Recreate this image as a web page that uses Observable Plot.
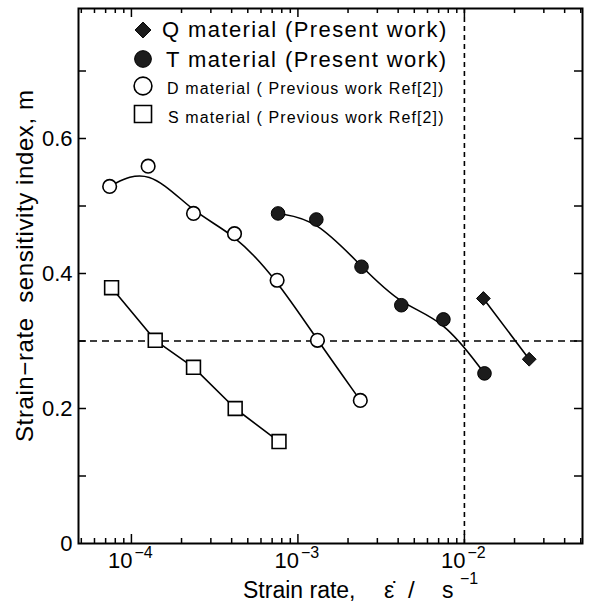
<!DOCTYPE html>
<html><head><meta charset="utf-8">
<script src="https://cdn.jsdelivr.net/npm/d3@7"></script>
<script src="https://cdn.jsdelivr.net/npm/@observablehq/plot@0.6"></script>
<style>
body{margin:0;background:#fff}
svg{font-family:"Liberation Sans",Arial,Helvetica,sans-serif;background:#fff}
</style>
</head><body><div id="chart"></div>
<script>
// ---- data (strain rate in 1/s, sensitivity index m) ----
const dRate = [7.4e-5, 1.26e-4, 2.36e-4, 4.16e-4, 7.5e-4, 1.31e-3, 2.37e-3];
const dM    = [0.529, 0.559, 0.489, 0.459, 0.390, 0.301, 0.212];
const sRate = [7.6e-5, 1.39e-4, 2.36e-4, 4.2e-4, 7.7e-4];
const sM    = [0.379, 0.301, 0.261, 0.200, 0.151];
const tRate = [7.6e-4, 1.29e-3, 2.41e-3, 4.18e-3, 7.48e-3, 1.32e-2];
const tM    = [0.489, 0.480, 0.410, 0.353, 0.332, 0.252];
const qRate = [1.30e-2, 2.45e-2];
const qM    = [0.363, 0.273];
const refM = [0.3];
const refRate = [0.01];
const xMajor = [1e-4, 1e-3, 1e-2];
const xMajorBase = ["10", "10", "10"];
const xMajorExp = ["\u22124", "\u22123", "\u22122"];
const yMajor = [0, 0.2, 0.4, 0.6];
const yLabels = ["0", "0.2", "0.4", "0.6"];
const yMinor = [0.1, 0.3, 0.5, 0.7];
const legendLabels = [
  "Q material (Present work)",
  "T material (Present work)",
  "D material ( Previous work Ref[2])",
  "S material ( Previous work Ref[2])"
];
const yTitle = "Strain\u2212rate\u00a0\u00a0sensitivity index, m";
const xTitle = "Strain rate,";

// ---- scales / layout ----
const xDomain = [4.81e-5, 0.0512];
const yDomain = [0, 0.7926];
const W = 590, H = 604, mL = 78, mR = 8, mT = 8, mB = 61;
const plotH = H - mT - mB, plotW = W - mL - mR;
const yPerPx = (yDomain[1] - yDomain[0]) / plotH;
const decadePx = plotW / Math.log10(xDomain[1] / xDomain[0]);
const xFactor = px => Math.pow(10, px / decadePx);

const xMinor = [];
for (let e = -5; e <= -2; e++) for (let k = 2; k <= 9; k++) {
  const v = k * Math.pow(10, e);
  if (v > xDomain[0] && v < xDomain[1]) xMinor.push(v);
}
const yTicksAll = [...yMajor.filter(v => v > 0), ...yMinor];

const pts = (xs, ys) => xs.map((x, i) => ({x, y: ys[i]}));
const D = pts(dRate, dM), S = pts(sRate, sM), T = pts(tRate, tM), Q = pts(qRate, qM);

const chart = Plot.plot({
  width: W, height: H,
  marginLeft: mL, marginRight: mR, marginTop: mT, marginBottom: mB,
  x: {type: "log", domain: xDomain, axis: null},
  y: {domain: yDomain, axis: null},
  marks: [
    Plot.ruleY(refM, {stroke: "black", strokeWidth: 1.6, strokeDasharray: "7,5"}),
    Plot.ruleX(refRate, {stroke: "black", strokeWidth: 1.6, strokeDasharray: "5,4"}),
    // ticks (inward) bottom/top
    Plot.ruleX(xMajor, {y1: yDomain[0], y2: yDomain[0] + 9 * yPerPx, strokeWidth: 1.5}),
    Plot.ruleX(xMinor, {y1: yDomain[0], y2: yDomain[0] + 5 * yPerPx, strokeWidth: 1.5}),
    Plot.ruleX(xMajor, {y1: yDomain[1], y2: yDomain[1] - 9 * yPerPx, strokeWidth: 1.5}),
    Plot.ruleX(xMinor, {y1: yDomain[1], y2: yDomain[1] - 5 * yPerPx, strokeWidth: 1.5}),
    // ticks left/right
    Plot.ruleY(yTicksAll, {x1: xDomain[0], x2: xDomain[0] * xFactor(8), strokeWidth: 1.5}),
    Plot.ruleY(yTicksAll, {x1: xDomain[1], x2: xDomain[1] / xFactor(8), strokeWidth: 1.5}),
    Plot.frame({stroke: "black", strokeWidth: 2}),
    // curves
    Plot.line(D, {x: "x", y: "y", curve: "basis", strokeWidth: 1.6}),
    Plot.line(T, {x: "x", y: "y", curve: "basis", strokeWidth: 1.6}),
    Plot.line(S, {x: "x", y: "y", strokeWidth: 1.6}),
    Plot.line(Q, {x: "x", y: "y", strokeWidth: 1.6}),
    // markers
    Plot.dot(D, {x: "x", y: "y", r: 6.8, fill: "white", stroke: "black", strokeWidth: 1.6}),
    Plot.dot(S, {x: "x", y: "y", symbol: "square", r: 7.8, fill: "white", stroke: "black", strokeWidth: 1.6}),
    Plot.dot(T, {x: "x", y: "y", r: 6.8, fill: "#1c1c1c", stroke: "black", strokeWidth: 1}),
    Plot.dot(Q, {x: "x", y: "y", symbol: "diamond2", r: 6.2, fill: "#1c1c1c", stroke: "black", strokeWidth: 1}),
    // tick labels
    Plot.text(yMajor, {y: d => d, frameAnchor: "left", text: (d, i) => yLabels[i], textAnchor: "end", dx: -6, fontSize: 22, fill: "black"}),
    Plot.text(xMajor, {x: d => d, frameAnchor: "bottom", text: (d, i) => xMajorBase[i], textAnchor: "end", dx: 1, dy: 24, fontSize: 22, fill: "black"}),
    Plot.text(xMajor, {x: d => d, frameAnchor: "bottom", text: (d, i) => xMajorExp[i], textAnchor: "start", dx: 3, dy: 14, fontSize: 16, fill: "black"})
  ]
});
document.getElementById("chart").appendChild(chart);

// ---- titles and legend ----
const svg = d3.select(chart);
// y title
svg.append("text")
  .attr("transform", "translate(33,442) rotate(-90)")
  .attr("text-anchor", "start")
  .attr("font-size", 24)
  .attr("letter-spacing", 0.6)
  .attr("fill", "black")
  .text(yTitle);
// x title
const xt = svg.append("text").attr("font-size", 23).attr("fill", "black").attr("text-anchor", "start");
xt.append("tspan").attr("x", 243).attr("y", 598).text(xTitle);
xt.append("tspan").attr("x", 384).attr("y", 598).text("\u03b5\u0307");
xt.append("tspan").attr("x", 408).attr("y", 598).attr("font-size", 24).text("/");
xt.append("tspan").attr("x", 442).attr("y", 598).text("s");
xt.append("tspan").attr("x", 460).attr("y", 584).attr("font-size", 16).text("\u22121");

// legend
const legSymbols = [
  {sym: d3.symbolDiamond2, size: 160, fill: "#1c1c1c", sw: 1},
  {sym: d3.symbolCircle, size: 220, fill: "#1c1c1c", sw: 1},
  {sym: d3.symbolCircle, size: 250, fill: "white", sw: 1.6},
  {sym: d3.symbolSquare, size: 290, fill: "white", sw: 1.6}
];
const legY = [30, 59, 86, 114];
const legTextX = [162, 166, 167, 168];
const legBase = [37, 67, 94, 123];
const legFont = [22, 22, 16, 16];
const legLS = [1.4, 1.4, 1.1, 1.1];
const lg = svg.append("g").attr("text-anchor", "start");
legendLabels.forEach((lab, i) => {
  lg.append("path")
    .attr("d", d3.symbol(legSymbols[i].sym, legSymbols[i].size)())
    .attr("transform", `translate(143,${legY[i]})`)
    .attr("fill", legSymbols[i].fill)
    .attr("stroke", "black")
    .attr("stroke-width", legSymbols[i].sw);
  lg.append("text")
    .attr("x", legTextX[i]).attr("y", legBase[i])
    .attr("text-anchor", "start")
    .attr("font-size", legFont[i])
    .attr("letter-spacing", legLS[i])
    .attr("fill", "black")
    .style("white-space", "pre")
    .text(lab);
});
</script>
</body></html>
